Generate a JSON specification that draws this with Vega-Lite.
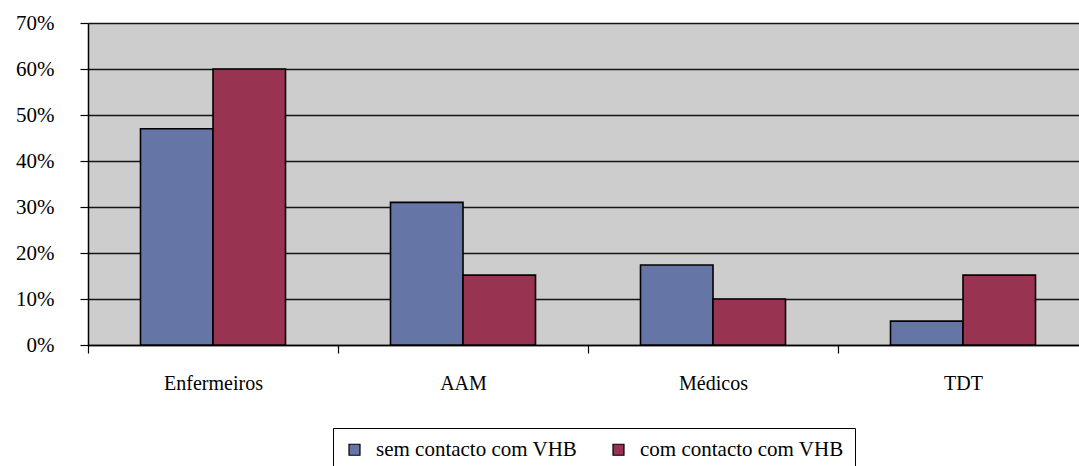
{
  "$schema": "https://vega.github.io/schema/vega-lite/v6.json",
  "autosize": {"type": "none"},
  "padding": {"left": 88, "top": 23, "right": 0, "bottom": 121},
  "width": 1000,
  "height": 322,
  "background": "white",
  "data": {
    "values": [
      {"categoria": "Enfermeiros", "grupo": "sem contacto com VHB", "valor": 0.47},
      {"categoria": "Enfermeiros", "grupo": "com contacto com VHB", "valor": 0.60},
      {"categoria": "AAM", "grupo": "sem contacto com VHB", "valor": 0.31},
      {"categoria": "AAM", "grupo": "com contacto com VHB", "valor": 0.152},
      {"categoria": "Médicos", "grupo": "sem contacto com VHB", "valor": 0.174},
      {"categoria": "Médicos", "grupo": "com contacto com VHB", "valor": 0.10},
      {"categoria": "TDT", "grupo": "sem contacto com VHB", "valor": 0.052},
      {"categoria": "TDT", "grupo": "com contacto com VHB", "valor": 0.152}
    ]
  },
  "mark": {"type": "bar", "stroke": "black", "strokeWidth": 1.6},
  "encoding": {
    "x": {
      "field": "categoria",
      "type": "nominal",
      "sort": ["Enfermeiros", "AAM", "Médicos", "TDT"],
      "scale": {"paddingInner": 0, "paddingOuter": 0},
      "axis": {
        "title": null,
        "labelAngle": 0,
        "labelFont": "Times New Roman",
        "labelFontSize": 20,
        "labelColor": "black",
        "labelPadding": 20,
        "tickBand": "extent",
        "tickSize": 8,
        "tickColor": "black",
        "tickWidth": 1.2,
        "domainColor": "black",
        "domainWidth": 1.5,
        "grid": false
      }
    },
    "xOffset": {
      "field": "grupo",
      "type": "nominal",
      "sort": ["sem contacto com VHB", "com contacto com VHB"],
      "scale": {"paddingInner": 0, "paddingOuter": 0.724}
    },
    "y": {
      "field": "valor",
      "type": "quantitative",
      "scale": {"domain": [0, 0.7], "nice": false},
      "axis": {
        "title": null,
        "values": [0, 0.1, 0.2, 0.3, 0.4, 0.5, 0.6, 0.7],
        "format": ".0%",
        "labelFont": "Times New Roman",
        "labelFontSize": 21,
        "labelColor": "black",
        "labelPadding": 26,
        "tickSize": 8,
        "tickColor": "black",
        "tickWidth": 1.2,
        "domainColor": "black",
        "domainWidth": 1.5,
        "grid": true,
        "gridColor": "black",
        "gridWidth": 1.3,
        "gridOpacity": 0.9
      }
    },
    "color": {
      "field": "grupo",
      "type": "nominal",
      "sort": ["sem contacto com VHB", "com contacto com VHB"],
      "scale": {
        "domain": ["sem contacto com VHB", "com contacto com VHB"],
        "range": ["#6575a6", "#993352"]
      },
      "legend": {
        "title": null,
        "orient": "none",
        "legendX": 245,
        "legendY": 405,
        "direction": "horizontal",
        "fillColor": "white",
        "strokeColor": "black",
        "padding": 11,
        "symbolType": "square",
        "symbolSize": 121,
        "symbolStrokeColor": "black",
        "symbolStrokeWidth": 1.2,
        "labelFont": "Times New Roman",
        "labelFontSize": 21,
        "labelColor": "black",
        "labelOffset": 11,
        "labelLimit": 0,
        "columnPadding": 30
      }
    }
  },
  "config": {
    "view": {"fill": "#cdcdcd", "stroke": null}
  }
}
